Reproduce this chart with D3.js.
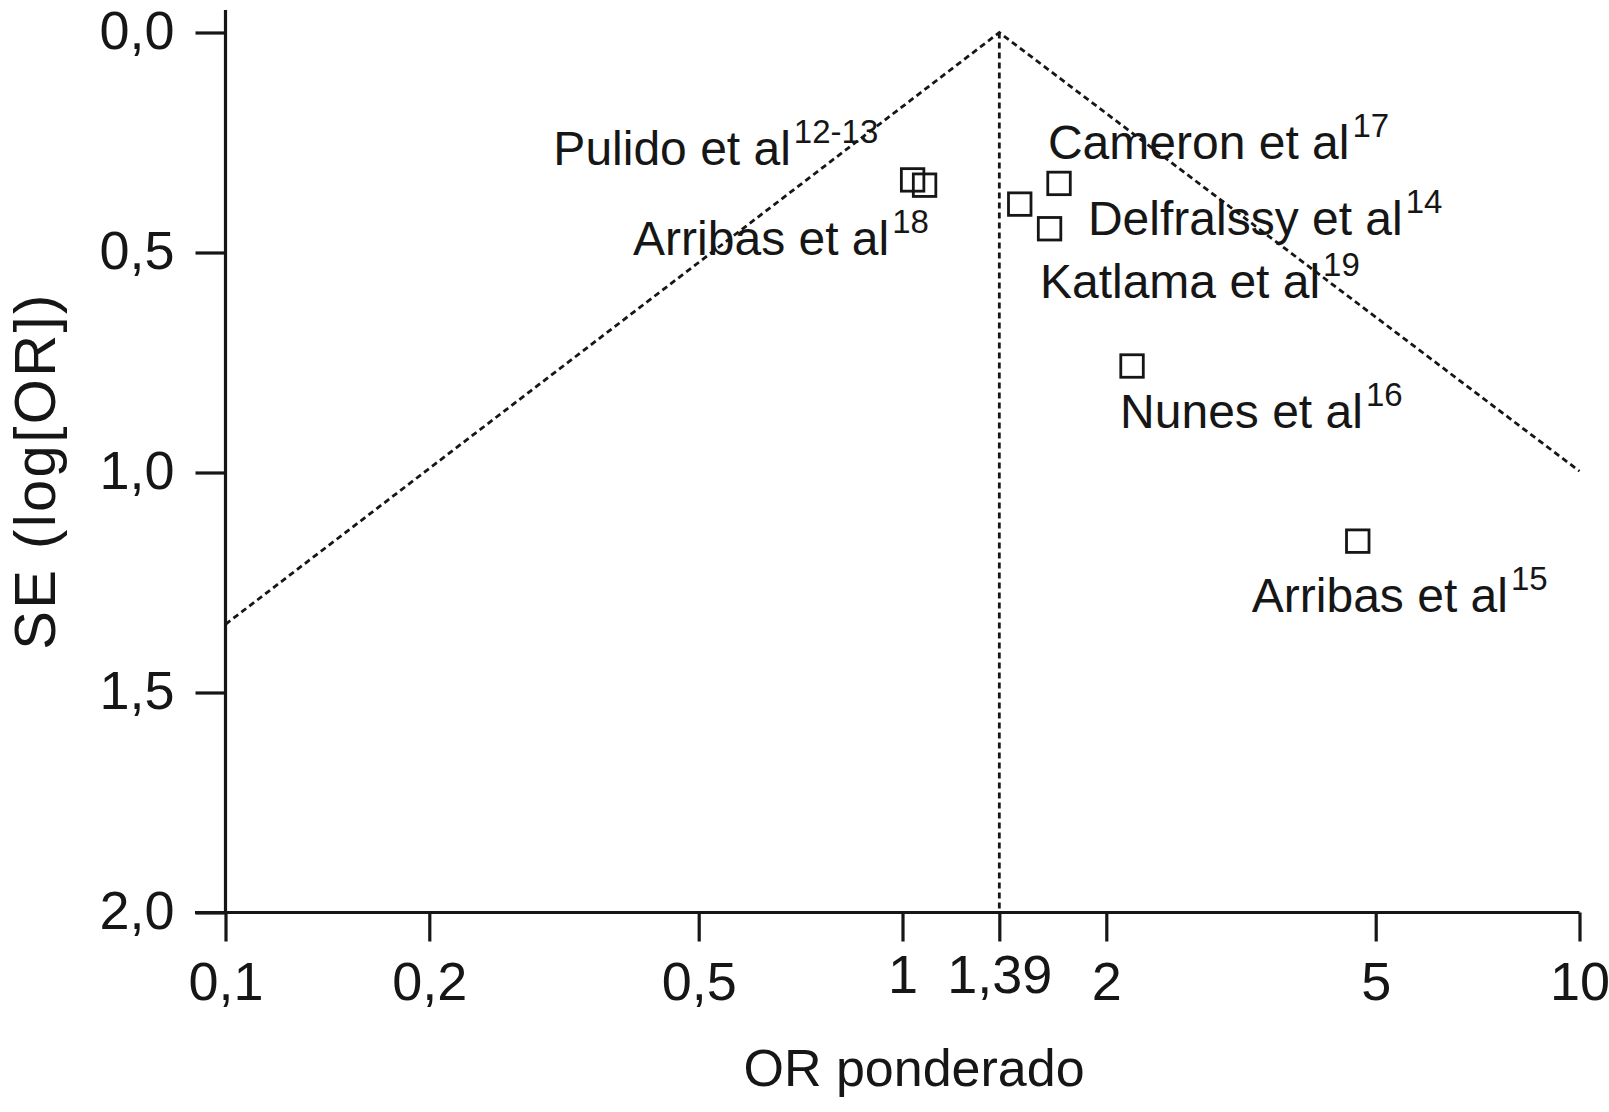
<!DOCTYPE html>
<html>
<head>
<meta charset="utf-8">
<script src="https://cdn.jsdelivr.net/npm/d3@7"></script>
<style>
  html, body { margin: 0; padding: 0; background: #fff; }
  svg { display: block; font-family: "Liberation Sans", Arial, Helvetica, sans-serif; }
</style>
</head>
<body>
<svg id="chart" width="1609" height="1112"></svg>
<script>
// ---- Data ----
const studyOR = [1.035, 1.078, 1.490, 1.703, 1.649, 2.183, 4.704];
const studySE = [0.335, 0.347, 0.390, 0.343, 0.446, 0.758, 1.156];

const pooledOR = 1.39;
const funnelOR = [0.1, 1.39, 10];
const funnelSE = [1.345, 0.0, 0.997];

const xTickValues = [0.1, 0.2, 0.5, 1, 1.39, 2, 5, 10];
const xTickLabels = ["0,1", "0,2", "0,5", "1", "1,39", "2", "5", "10"];
const yTickValues = [0, 0.5, 1.0, 1.5, 2.0];
const yTickLabels = ["0,0", "0,5", "1,0", "1,5", "2,0"];

const labelText = ["Pulido et al", "Arribas et al", "Cameron et al", "Delfralssy et al", "Katlama et al", "Nunes et al", "Arribas et al"];
const labelSup  = ["12-13", "18", "17", "14", "19", "16", "15"];
const labelOR   = [0.3050, 0.4000, 1.640, 1.879, 1.596, 2.096, 3.281];
const labelSE   = [0.301, 0.5057, 0.288, 0.460, 0.603, 0.8995, 1.316];

const xTitle = "OR ponderado";
const yTitle = "SE (log[OR])";

// ---- Layout ----
const svg = d3.select("#chart");
const mLeft = 225.5, mRight = 1579.5, mTop = 32.5, mBottom = 912.5;
const ink = "#161616";

const x = d3.scaleLog().domain([0.1, 10]).range([mLeft, mRight]);
const y = d3.scaleLinear().domain([0, 2]).range([mTop, mBottom]);

// ---- Funnel (dotted) ----
const line = d3.line().x(d => x(d[0])).y(d => y(d[1]));
svg.append("path")
  .datum(funnelOR.map((o, i) => [o, funnelSE[i]]))
  .attr("d", line)
  .attr("fill", "none").attr("stroke", ink)
  .attr("stroke-width", 2.8).attr("stroke-dasharray", "6,4");

svg.append("path")
  .datum([[pooledOR, 0], [pooledOR, 2]])
  .attr("d", line)
  .attr("fill", "none").attr("stroke", ink)
  .attr("stroke-width", 2.8).attr("stroke-dasharray", "6,4");

// ---- Axes ----
const yAxis = d3.axisLeft(y).tickValues(yTickValues)
  .tickFormat((d, i) => yTickLabels[i]).tickSize(30).tickSizeOuter(0).tickPadding(21);
const gy = svg.append("g").attr("transform", `translate(${mLeft},0)`).call(yAxis);
gy.select(".domain").remove();
gy.selectAll(".tick line").attr("stroke", ink).attr("stroke-width", 3.2);
gy.selectAll(".tick text").attr("dy", null).attr("y", 16)
  .attr("fill", ink).style("font-size", "54px").style("font-family", "Liberation Sans, Arial, sans-serif");
svg.append("line").attr("x1", mLeft).attr("x2", mLeft).attr("y1", 10).attr("y2", mBottom)
  .attr("stroke", ink).attr("stroke-width", 3.2);

const xAxis = d3.axisBottom(x).tickValues(xTickValues)
  .tickFormat((d, i) => xTickLabels[i]).tickSize(29).tickSizeOuter(0);
const gx = svg.append("g").attr("transform", `translate(0,${mBottom})`).call(xAxis);
gx.select(".domain").remove();
gx.selectAll(".tick line").attr("stroke", ink).attr("stroke-width", 3.2);
gx.selectAll(".tick text").attr("dy", null)
  .attr("y", d => (d === 1 || d === 1.39) ? 80 : 87)
  .attr("fill", ink).style("font-size", "54px").style("font-family", "Liberation Sans, Arial, sans-serif");
svg.append("line").attr("x1", 195).attr("x2", mRight).attr("y1", mBottom).attr("y2", mBottom)
  .attr("stroke", ink).attr("stroke-width", 3.2);

// ---- Titles ----
svg.append("text").attr("x", 914).attr("y", 1086).attr("text-anchor", "middle")
  .attr("fill", ink).style("font-size", "52px").text(xTitle);
svg.append("text").attr("transform", "translate(55,471) rotate(-90)").attr("text-anchor", "middle")
  .attr("fill", ink).style("font-size", "58px").style("letter-spacing", "2.4px").text(yTitle);

// ---- Markers ----
const sq = 22.5;
svg.append("g").selectAll("rect")
  .data(studyOR.map((o, i) => [o, studySE[i]]))
  .join("rect")
  .attr("x", d => x(d[0]) - sq / 2).attr("y", d => y(d[1]) - sq / 2)
  .attr("width", sq).attr("height", sq)
  .attr("fill", "none").attr("stroke", ink).attr("stroke-width", 2.8);

// ---- Labels ----
const lbl = svg.append("g").selectAll("text")
  .data(labelText.map((t, i) => ({ t, s: labelSup[i], o: labelOR[i], e: labelSE[i] })))
  .join("text")
  .attr("x", d => x(d.o)).attr("y", d => y(d.e))
  .attr("fill", ink).style("font-size", "48px");
lbl.append("tspan").text(d => d.t);
lbl.append("tspan").attr("dy", -22).style("font-size", "33px").attr("dx", 3).text(d => d.s);
</script>
</body>
</html>
